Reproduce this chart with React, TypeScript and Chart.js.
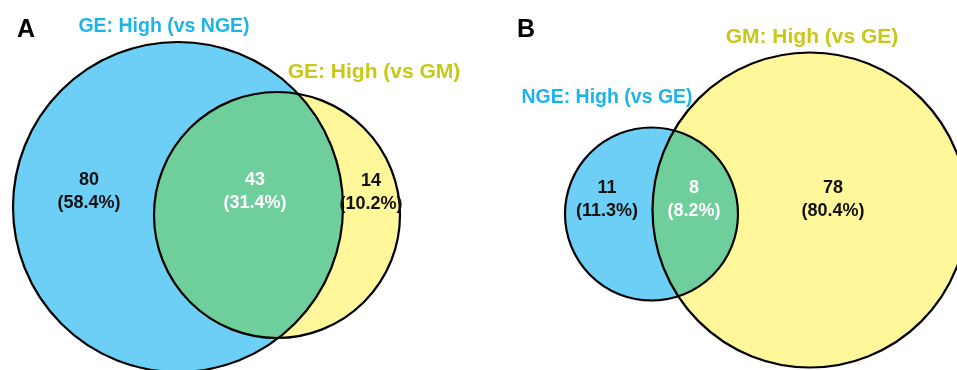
import React, { useEffect, useRef } from "react";
import { Chart, registerables } from "chart.js";

Chart.register(...registerables);

// ---- data ----
const panelLetters = ["A", "B"];
const leftSetNames = ["GE: High (vs NGE)", "NGE: High (vs GE)"];
const rightSetNames = ["GE: High (vs GM)", "GM: High (vs GE)"];
// counts per panel: [left only, both, right only]
const countsA = [80, 43, 14];
const countsB = [11, 8, 78];

// ---- layout (pixel space of a 957x370 canvas) ----
const W = 957;
const H = 370;
const blueCircles = [
  { x: 178, y: 207, r: 165 },
  { x: 651.5, y: 214, r: 86.5 },
];
const yellowCircles = [
  { x: 277, y: 215, r: 123 },
  { x: 810, y: 210, r: 157.5 },
];
const regionLabelPos = [
  [ { x: 89, y: 180 }, { x: 255, y: 180 }, { x: 371, y: 181 } ],
  [ { x: 607, y: 188 }, { x: 694, y: 188 }, { x: 833, y: 188 } ],
];
const letterPos = [ { x: 17, y: 37 }, { x: 517, y: 37 } ];
const leftTitlePos = [ { x: 164, y: 27 }, { x: 607, y: 98 } ];
const rightTitlePos = [ { x: 374, y: 72 }, { x: 812, y: 37 } ];

const BLUE = "#6dcff6";
const YELLOW = "#fff799";
const GREEN = "#6ecf9c";
const BLUE_TEXT = "#1cb4ea";
const YELLOW_TEXT = "#c8c818";
const FONT = "'Liberation Sans', Arial, Helvetica, sans-serif";

function pct(v: number, total: number) {
  return "(" + ((v / total) * 100).toFixed(1) + "%)";
}

export default function App() {
  const ref = useRef<HTMLCanvasElement | null>(null);

  useEffect(() => {
    const canvas = ref.current;
    if (!canvas) return;
    const allCounts = [countsA, countsB];

    const intersectionPlugin = {
      id: "vennIntersection",
      afterDatasetDraw(chart: any, args: any) {
        if (args.index !== 1) return;
        const ctx = chart.ctx;
        const yMeta = chart.getDatasetMeta(1);
        const bMeta = chart.getDatasetMeta(2);
        for (let i = 0; i < yMeta.data.length; i++) {
          const y = yMeta.data[i] as any;
          const b = bMeta.data[i] as any;
          ctx.save();
          ctx.beginPath();
          ctx.arc(b.x, b.y, b.options.radius, 0, Math.PI * 2);
          ctx.clip();
          ctx.beginPath();
          ctx.arc(y.x, y.y, y.options.radius, 0, Math.PI * 2);
          ctx.fillStyle = GREEN;
          ctx.fill();
          ctx.restore();
        }
      },
    };

    const textPlugin = {
      id: "vennText",
      afterDraw(chart: any) {
        const ctx = chart.ctx;
        ctx.save();
        ctx.textBaseline = "alphabetic";
        ctx.textAlign = "left";
        ctx.fillStyle = "#000";
        ctx.font = "bold 25px " + FONT;
        panelLetters.forEach((l, i) => ctx.fillText(l, letterPos[i].x, letterPos[i].y));

        ctx.textAlign = "center";
        ctx.textBaseline = "middle";
        ctx.font = "bold 19.5px " + FONT;
        ctx.fillStyle = BLUE_TEXT;
        leftSetNames.forEach((t, i) => ctx.fillText(t, leftTitlePos[i].x, leftTitlePos[i].y));
        ctx.font = "bold 21px " + FONT;
        ctx.fillStyle = YELLOW_TEXT;
        rightSetNames.forEach((t, i) => ctx.fillText(t, rightTitlePos[i].x, rightTitlePos[i].y));

        ctx.font = "bold 18px " + FONT;
        allCounts.forEach((counts, p) => {
          const total = counts.reduce((a, b) => a + b, 0);
          counts.forEach((v, k) => {
            const pos = regionLabelPos[p][k];
            ctx.fillStyle = k === 1 ? "#ffffff" : "#111111";
            ctx.fillText(String(v), pos.x, pos.y);
            ctx.fillText(pct(v, total), pos.x, pos.y + 23);
          });
        });
        ctx.restore();
      },
    };

    const chart = new Chart(canvas, {
      type: "bubble",
      data: {
        datasets: [
          {
            label: "outlines",
            data: [...blueCircles, ...yellowCircles].map((c) => ({ x: c.x, y: c.y, r: c.r })),
            backgroundColor: "rgba(0,0,0,0)",
            borderColor: "#000",
            borderWidth: 2.2,
            clip: false,
          },
          {
            label: "right sets",
            data: yellowCircles.map((c) => ({ x: c.x, y: c.y, r: c.r })),
            backgroundColor: YELLOW,
            borderWidth: 0,
            clip: false,
          },
          {
            label: "left sets",
            data: blueCircles.map((c) => ({ x: c.x, y: c.y, r: c.r })),
            backgroundColor: BLUE,
            borderWidth: 0,
            clip: false,
          },
        ],
      },
      options: {
        animation: false,
        responsive: false,
        maintainAspectRatio: false,
        events: [],
        layout: { padding: 0, autoPadding: false },
        plugins: { legend: { display: false }, tooltip: { enabled: false } },
        scales: {
          x: { type: "linear", min: 0, max: W, display: false },
          y: { type: "linear", min: 0, max: H, reverse: true, display: false },
        },
      },
      plugins: [intersectionPlugin, textPlugin],
    });
    return () => chart.destroy();
  }, []);

  return (
    <div style={{ position: "absolute", left: 0, top: 0, width: W, height: H, background: "#fff" }}>
      <canvas ref={ref} width={W} height={H} style={{ width: W, height: H, display: "block" }} />
    </div>
  );
}
